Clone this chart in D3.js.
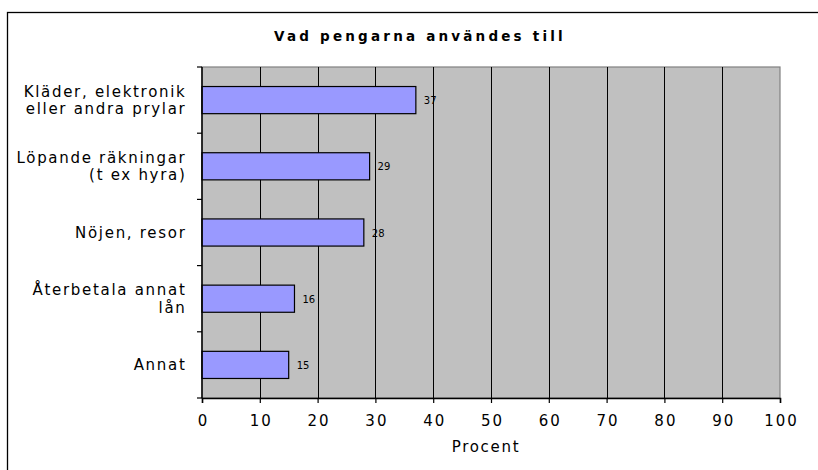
<!DOCTYPE html>
<html>
<head>
<meta charset="utf-8">
<script src="https://cdn.jsdelivr.net/npm/d3@7"></script>
<style>
  body { margin: 0; background: #fff; }
  text { font-family: "DejaVu Sans", Verdana, sans-serif; fill: #000; }
</style>
</head>
<body>
<svg id="chart" width="818" height="470"></svg>
<script>
// data
var categories = [
  ["Kläder, elektronik", "eller andra prylar"],
  ["Löpande räkningar", "(t ex hyra)"],
  ["Nöjen, resor"],
  ["Återbetala annat", "lån"],
  ["Annat"]
];
var values = [37, 29, 28, 16, 15];
var xTicks = [0, 10, 20, 30, 40, 50, 60, 70, 80, 90, 100];

var svg = d3.select("#chart"),
    margin = {top: 67, right: 38, bottom: 72, left: 202},
    width = +svg.attr("width") - margin.left - margin.right,
    height = +svg.attr("height") - margin.top - margin.bottom;

// outer frame (runs off the right and bottom edges)
svg.append("rect")
    .attr("x", 7.5).attr("y", 12.5)
    .attr("width", 830).attr("height", 480)
    .attr("fill", "#fff")
    .attr("stroke", "#000")
    .attr("stroke-width", 1.3);

svg.append("text")
    .attr("x", 420)
    .attr("y", 41)
    .attr("text-anchor", "middle")
    .attr("font-size", "13.5px")
    .attr("font-weight", "bold")
    .attr("letter-spacing", "3.2px")
    .text("Vad pengarna användes till");

var idx = d3.range(values.length);
var x = d3.scaleLinear().domain([0, 100]).range([0, width]),
    y = d3.scaleBand().domain(idx).range([0, height]).paddingInner(0.59).paddingOuter(0.295);
var yBand = d3.scaleBand().domain(idx).range([0, height]);

var g = svg.append("g")
    .attr("transform", "translate(" + margin.left + "," + margin.top + ")");

g.append("rect")
    .attr("width", width)
    .attr("height", height)
    .attr("fill", "#c0c0c0")
    .attr("stroke", "#808080")
    .attr("stroke-width", 1.2);

g.selectAll(".grid")
    .data(xTicks.slice(1, -1))
    .enter().append("line")
    .attr("class", "grid")
    .attr("x1", function(d) { return Math.round(x(d)) + 0.5; })
    .attr("x2", function(d) { return Math.round(x(d)) + 0.5; })
    .attr("y1", 0)
    .attr("y2", height)
    .attr("stroke", "#000")
    .attr("stroke-width", 1);

g.selectAll(".bar")
    .data(values)
    .enter().append("rect")
    .attr("class", "bar")
    .attr("x", 0)
    .attr("y", function(d, i) { return y(i); })
    .attr("width", function(d) { return x(d); })
    .attr("height", y.bandwidth())
    .attr("fill", "#9999ff")
    .attr("stroke", "#000")
    .attr("stroke-width", 1.2);

g.selectAll(".val")
    .data(values)
    .enter().append("text")
    .attr("class", "val")
    .attr("x", function(d) { return x(d) + 8; })
    .attr("y", function(d, i) { return y(i) + y.bandwidth() / 2 + 4; })
    .attr("font-size", "10px")
    .text(function(d) { return d; });

// x axis
var xAxis = g.append("g")
    .attr("transform", "translate(0," + height + ")")
    .call(d3.axisBottom(x).tickValues(xTicks).tickSize(5).tickPadding(12));
xAxis.select(".domain").attr("stroke", "#000").attr("stroke-width", 1.5);
xAxis.selectAll("line").attr("stroke-width", 1.2);
xAxis.selectAll("text")
    .attr("font-size", "15px")
    .attr("letter-spacing", "2px")
    .attr("dx", "1px")
    .style("font-family", "'DejaVu Sans', sans-serif");

// y axis with ticks on the band edges
var yAxis = g.append("g");
yAxis.append("line")
    .attr("x1", 0).attr("x2", 0)
    .attr("y1", 0).attr("y2", height)
    .attr("stroke", "#000").attr("stroke-width", 1.5);
yAxis.selectAll(".ytick")
    .data(idx.concat([values.length]))
    .enter().append("line")
    .attr("class", "ytick")
    .attr("x1", -5).attr("x2", 0)
    .attr("y1", function(d) { return d < values.length ? yBand(d) : height; })
    .attr("y2", function(d) { return d < values.length ? yBand(d) : height; })
    .attr("stroke", "#000").attr("stroke-width", 1.2);

var labels = yAxis.selectAll(".ylab")
    .data(categories)
    .enter().append("text")
    .attr("class", "ylab")
    .attr("text-anchor", "end")
    .attr("font-size", "15px")
    .attr("letter-spacing", "1.7px")
    .attr("transform", function(d, i) {
      var c = yBand(i) + yBand.bandwidth() / 2;
      return "translate(-15.5," + (c + 5 - (d.length - 1) * 8.5) + ")";
    });
labels.selectAll("tspan")
    .data(function(d) { return d; })
    .enter().append("tspan")
    .attr("x", 0)
    .attr("dy", function(d, j) { return j === 0 ? 0 : 17.5; })
    .text(function(d) { return d; });

svg.append("text")
    .attr("x", 486)
    .attr("y", 452)
    .attr("text-anchor", "middle")
    .attr("font-size", "15px")
    .attr("letter-spacing", "1.7px")
    .text("Procent");
</script>
</body>
</html>
